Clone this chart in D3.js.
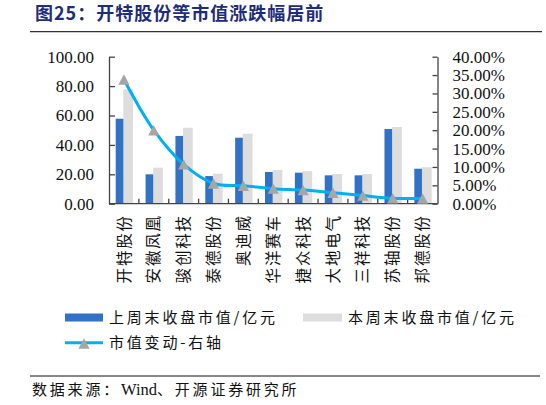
<!DOCTYPE html>
<html lang="zh">
<head>
	<meta charset="UTF-8">
	<script src="https://d3js.org/d3.v7.min.js"></script>
	<style>
	body { margin: 0; background: #fff; }
	svg { display: block; }
	</style>
	<title>开特股份等市值涨跌幅居前</title>
</head>
<body>
	<div id="chart"></div>
	<script>
		// Values
		const categories = ["开特股份", "安徽凤凰", "骏创科技", "泰德股份", "奥迪威", "华洋赛车", "捷众科技", "大地电气", "三祥科技", "苏轴股份", "邦德股份"];
		const lastWeek = [57.8, 20.0, 46.1, 18.8, 44.9, 21.6, 21.1, 19.3, 19.3, 50.8, 23.8];
		const thisWeek = [77.8, 24.5, 51.7, 20.4, 47.6, 22.9, 22.2, 20.2, 20.2, 52.2, 24.8];
		const changePct = [33.8, 20.0, 10.7, 5.5, 4.9, 4.1, 3.7, 3.0, 2.2, 1.5, 1.4];
		const leftTicks = [0, 20, 40, 60, 80, 100];
		const rightTicks = [0, 5, 10, 15, 20, 25, 30, 35, 40];
		const seriesNames = ["上周末收盘市值/亿元", "本周末收盘市值/亿元", "市值变动-右轴"];
		const titleText = "图25：开特股份等市值涨跌幅居前";
		const sourceParts = ["数据来源：", "Wind", "、开源证券研究所"];

		const width = 546, height = 405;
		const cjk = "'Noto Sans CJK SC', 'Noto Sans', sans-serif";
		const serif = "'Liberation Serif', 'Times New Roman', 'DejaVu Serif', serif";
		const blue = "#3272C6", grey = "#DDDDDD", cyan = "#00B0F0", marker = "#A6A6A6", axisColor = "#444";

		const svg = d3.select("#chart")
			.append("svg")
			.attr("width", width)
			.attr("height", height);

		// Title and its rule
		svg.append("text")
			.attr("x", 35)
			.attr("y", 20)
			.style("font-family", cjk)
			.style("font-weight", "bold")
			.style("font-size", "18px")
			.style("letter-spacing", "1px")
			.style("fill", "#1E2C7C")
			.text(titleText);
		svg.append("line")
			.attr("x1", 30).attr("x2", 542)
			.attr("y1", 31.7).attr("y2", 31.7)
			.style("stroke", "#333")
			.style("stroke-width", 1.2);

		// Scales
		const x = d3.scaleBand()
			.domain(categories)
			.range([109, 437.5])
			.padding(0);
		const step = x.step();
		const yL = d3.scaleLinear().domain([0, 100]).range([203.7, 56.7]);
		const yR = d3.scaleLinear().domain([0, 40]).range([203.7, 56.7]);

		// Bars: grey drawn after blue so it sits on top
		svg.append("g")
			.selectAll("rect")
			.data(categories)
			.join("rect")
			.attr("x", d => x(d) + step * 0.224)
			.attr("width", step * 0.3)
			.attr("y", (d, i) => yL(lastWeek[i]))
			.attr("height", (d, i) => yL(0) - yL(lastWeek[i]))
			.style("fill", blue);
		svg.append("g")
			.selectAll("rect")
			.data(categories)
			.join("rect")
			.attr("x", d => x(d) + step * 0.479)
			.attr("width", step * 0.326)
			.attr("y", (d, i) => yL(thisWeek[i]))
			.attr("height", (d, i) => yL(0) - yL(thisWeek[i]))
			.style("fill", grey);

		// Left axis (ticks point inward)
		const leftAxis = svg.append("g")
			.attr("transform", "translate(109,0)")
			.call(d3.axisLeft(yL).tickValues(leftTicks).tickFormat(d3.format(".2f"))
				.tickSizeInner(-6).tickSizeOuter(0).tickPadding(15));
		// Right axis
		const rightAxis = svg.append("g")
			.attr("transform", "translate(437.5,0)")
			.call(d3.axisRight(yR).tickValues(rightTicks).tickFormat(d => d3.format(".2f")(d) + "%")
				.tickSizeInner(-5).tickSizeOuter(0).tickPadding(15));
		[leftAxis, rightAxis].forEach(a => {
			a.attr("font-family", serif).attr("font-size", 17);
			a.select(".domain").style("stroke", axisColor).style("stroke-width", 1.3);
			a.selectAll(".tick line").style("stroke", axisColor).style("stroke-width", 1.3);
			a.selectAll(".tick text")
				.attr("font-family", serif)
				.style("font-family", serif)
				.style("font-size", "17px")
				.style("fill", "#111");
		});

		// Bottom axis: baseline plus separators between categories
		const bottomAxis = svg.append("g")
			.attr("transform", "translate(0," + yL(0) + ")");
		bottomAxis.append("line")
			.attr("x1", x.range()[0]).attr("x2", x.range()[1])
			.style("stroke", axisColor)
			.style("stroke-width", 1.3);
		bottomAxis.selectAll("line.sep")
			.data(categories.slice(1))
			.join("line")
			.attr("class", "sep")
			.attr("x1", d => x(d)).attr("x2", d => x(d))
			.attr("y1", 0).attr("y2", -5)
			.style("stroke", axisColor)
			.style("stroke-width", 1.3);
		bottomAxis.selectAll("text")
			.data(categories)
			.join("text")
			.attr("transform", d => "translate(" + (x(d) + step / 2) + ",10.5) rotate(-90)")
			.attr("text-anchor", "end")
			.attr("dy", "0.36em")
			.style("font-family", cjk)
			.style("font-size", "15.5px")
			.style("letter-spacing", "1.8px")
			.style("fill", "#111")
			.text(d => d);

		// Change line on right axis, smoothed like the original
		const line = d3.line()
			.x((d, i) => x(categories[i]) + step / 2)
			.y(d => yR(d))
			.curve(d3.curveCatmullRom.alpha(0.5));
		svg.append("path")
			.datum(changePct)
			.attr("d", line)
			.style("fill", "none")
			.style("stroke", cyan)
			.style("stroke-width", 3);

		// Triangle markers centred on their box
		function tri(cx, cy) {
			return "M" + cx + "," + (cy - 5.2) + "L" + (cx + 5.6) + "," + (cy + 5.2) + "L" + (cx - 5.6) + "," + (cy + 5.2) + "Z";
		}
		svg.append("g")
			.selectAll("path")
			.data(changePct)
			.join("path")
			.attr("d", (d, i) => tri(x(categories[i]) + step / 2, yR(d)))
			.style("fill", marker);

		// Legend
		const legend = svg.append("g")
			.style("font-family", cjk)
			.style("font-size", "15px")
			.style("letter-spacing", "2.8px")
			.style("fill", "#111");
		legend.append("rect")
			.attr("x", 65).attr("y", 313.5).attr("width", 38).attr("height", 8)
			.style("fill", blue);
		legend.append("text")
			.attr("x", 109).attr("y", 317.5).attr("dy", "0.36em")
			.text(seriesNames[0]);
		legend.append("rect")
			.attr("x", 303).attr("y", 313.5).attr("width", 39).attr("height", 8)
			.style("fill", grey);
		legend.append("text")
			.attr("x", 348).attr("y", 317.5).attr("dy", "0.36em")
			.text(seriesNames[1]);
		legend.append("line")
			.attr("x1", 65).attr("x2", 103).attr("y1", 342.7).attr("y2", 342.7)
			.style("stroke", cyan)
			.style("stroke-width", 3);
		legend.append("path")
			.attr("d", tri(84, 343.5))
			.style("fill", marker);
		legend.append("text")
			.attr("x", 109).attr("y", 342.7).attr("dy", "0.36em")
			.text(seriesNames[2]);

		// Source note with its rule
		svg.append("line")
			.attr("x1", 30).attr("x2", 540)
			.attr("y1", 376).attr("y2", 376)
			.style("stroke", "#111")
			.style("stroke-width", 1);
		const source = svg.append("text")
			.attr("x", 32).attr("y", 390).attr("dy", "0.36em")
			.style("font-family", cjk)
			.style("font-size", "15px")
			.style("fill", "#111");
		source.selectAll("tspan")
			.data(sourceParts)
			.join("tspan")
			.style("font-family", (d, i) => i === 1 ? serif : cjk)
			.style("font-size", (d, i) => i === 1 ? "16.5px" : "15px")
			.style("letter-spacing", (d, i) => i === 1 ? "0px" : "2.8px")
			.text(d => d);
	</script>
</body>
</html>
